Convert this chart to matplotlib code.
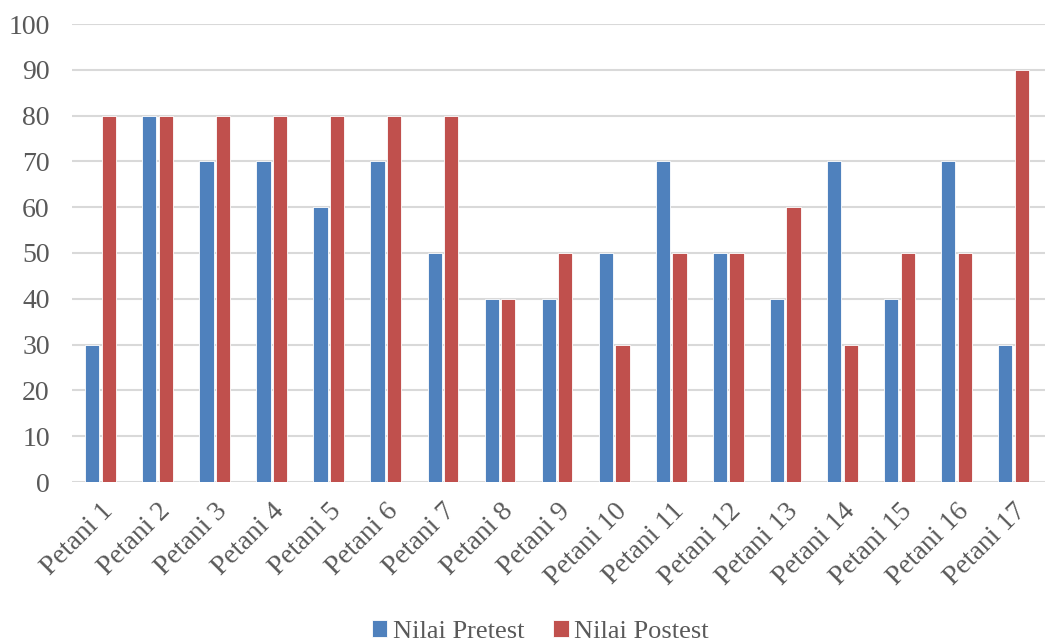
import numpy as np
import matplotlib
matplotlib.use('Agg')
import matplotlib.pyplot as plt

categories = ['Petani %d' % i for i in range(1, 18)]
pretest = [30, 80, 70, 70, 60, 70, 50, 40, 40, 50, 70, 50, 40, 70, 40, 70, 30]
postest = [80, 80, 80, 80, 80, 80, 80, 40, 50, 30, 50, 50, 60, 30, 50, 50, 90]

plt.rcParams['font.family'] = ['Liberation Serif', 'DejaVu Serif']
text_color = '#595959'

fig = plt.figure(figsize=(10.45, 6.41), dpi=100)
ax = fig.add_axes([72 / 1045, 1 - 482 / 641, (1045 - 72) / 1045, (482 - 24) / 641])

x = np.arange(len(categories))
w = 0.25
ax.bar(x - w / 2 - 0.02, pretest, w, color='#4F81BD', edgecolor='white', linewidth=0.6,
       label='Nilai Pretest', zorder=3)
ax.bar(x + w / 2 + 0.02, postest, w, color='#C0504D', edgecolor='white', linewidth=0.6,
       label='Nilai Postest', zorder=3)

ax.set_xlim(-0.5, 16.55)
ax.set_ylim(0, 100)
ax.set_yticks(range(0, 101, 10))
ax.yaxis.grid(True, color='#D9D9D9', linewidth=1.5, zorder=0)
ax.set_axisbelow(True)
for s in ax.spines.values():
    s.set_visible(False)
ax.tick_params(length=0, labelsize=20, colors=text_color)
ax.tick_params(axis='y', pad=16)
ax.tick_params(axis='x', pad=12)
ax.set_xticks(x)
ax.set_xticklabels(categories, rotation=45, ha='right', rotation_mode='anchor')

fig.legend(loc='lower center', bbox_to_anchor=(0.517, -0.04), ncol=2, frameon=False,
           fontsize=19, handlelength=0.6, handleheight=0.6, handletextpad=0.2,
           columnspacing=1.1, labelcolor=text_color)

fig.savefig('out.png', dpi=100)
